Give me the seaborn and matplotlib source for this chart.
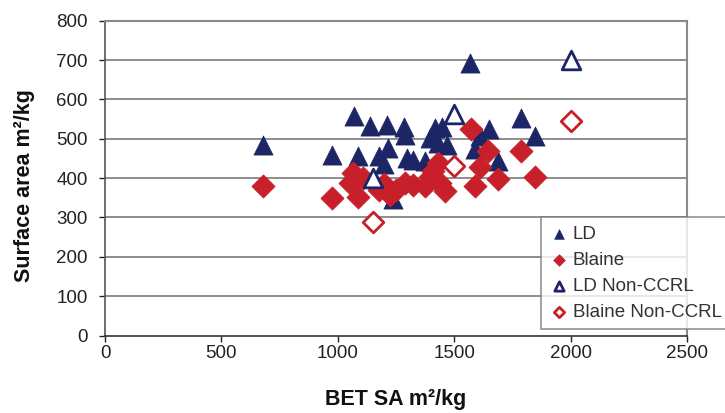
import matplotlib
matplotlib.use('Agg')
import matplotlib.pyplot as plt
import seaborn as sns
import pandas as pd

# BET 비표면적 vs 분말도 (LD / Blaine)
ld_bet = [680, 975, 1070, 1087, 1137, 1175, 1200, 1210, 1215, 1237, 1285, 1288,
          1298, 1325, 1374, 1395, 1417, 1431, 1446, 1467, 1570, 1590, 1610, 1650,
          1690, 1789, 1847]
ld_sa = [483, 459, 557, 457, 533, 457, 436, 535, 476, 347, 531, 510,
         452, 446, 443, 502, 527, 489, 530, 484, 693, 475, 506, 525,
         443, 552, 506]

blaine_bet = [680, 973, 1051, 1066, 1087, 1108, 1175, 1200, 1223, 1252, 1288, 1325,
              1374, 1395, 1410, 1431, 1438, 1460, 1574, 1589, 1610, 1646, 1689, 1789,
              1847]
blaine_sa = [380, 349, 387, 413, 353, 400, 370, 385, 357, 370, 387, 383,
             379, 404, 417, 438, 387, 366, 525, 380, 427, 468, 397, 468,
             404]

ld_nc_bet = [1150, 1500, 2000]
ld_nc_sa = [400, 562, 700]

blaine_nc_bet = [1150, 1500, 2000]
blaine_nc_sa = [288, 430, 545]

navy = '#1c2566'
red = '#c8202a'

sns.set_style('white')
plt.rcParams['font.family'] = ['Liberation Sans', 'DejaVu Sans']

fig = plt.figure(figsize=(7.25, 4.13), dpi=100)
ax = fig.add_axes([105 / 725, 1 - 335.5 / 413, 582 / 725, 314.8 / 413])

# 격자선을 먼저 그림
for yv in range(100, 900, 100):
    ax.axhline(yv, color='#858585', lw=1.3, zorder=0)

sns.scatterplot(x=ld_bet, y=ld_sa, ax=ax, marker='^', s=190, color=navy,
                edgecolor=navy, linewidth=0.5, label='LD', zorder=3)
sns.scatterplot(x=blaine_bet, y=blaine_sa, ax=ax, marker='D', s=140, color=red,
                edgecolor=red, linewidth=0.5, label='Blaine', zorder=3)
sns.scatterplot(x=ld_nc_bet, y=ld_nc_sa, ax=ax, marker='^', s=180, facecolor='white',
                edgecolor=navy, linewidth=2, label='LD Non-CCRL', zorder=4)
sns.scatterplot(x=blaine_nc_bet, y=blaine_nc_sa, ax=ax, marker='D', s=110, facecolor='white',
                edgecolor=red, linewidth=2, label='Blaine Non-CCRL', zorder=4)

ax.set_xlim(0, 2500)
ax.set_ylim(0, 800)
ax.set_xticks(range(0, 2501, 500))
ax.set_yticks(range(0, 801, 100))
ax.tick_params(axis='both', labelsize=13.5, colors='#222222', direction='out',
               length=4.5, width=1, left=True, bottom=True)
ax.tick_params(axis='x', pad=2)
ax.tick_params(axis='y', pad=8)

for side in ['top', 'right']:
    ax.spines[side].set_color('#8a8a8a')
    ax.spines[side].set_linewidth(1.5)
ax.spines['left'].set_color('#555555')
ax.spines['bottom'].set_color('#333333')
ax.spines['left'].set_linewidth(1.2)
ax.spines['bottom'].set_linewidth(1.2)

ax.set_xlabel('BET SA m²/kg', fontsize=15.5, fontweight='bold', color='#111111')
ax.set_ylabel('Surface area m²/kg', fontsize=15.5, fontweight='bold', color='#111111')
ax.xaxis.set_label_coords(0.5, -0.17)
ax.yaxis.set_label_coords(-0.12, 0.475)

ax.get_legend().remove()
handles, labels = ax.get_legend_handles_labels()
leg = fig.legend(handles, labels, loc='upper left',
                 bbox_to_anchor=(541 / 725, 1 - 217 / 413),
                 fontsize=13.5, frameon=True, fancybox=False, edgecolor='#777777',
                 markerscale=0.5, handlelength=1.0, handletextpad=0.25,
                 borderpad=0.45, labelspacing=0.48, borderaxespad=0)
leg.get_frame().set_linewidth(1.2)
for t in leg.get_texts():
    t.set_color('#333333')

fig.savefig('out.png', dpi=100)
